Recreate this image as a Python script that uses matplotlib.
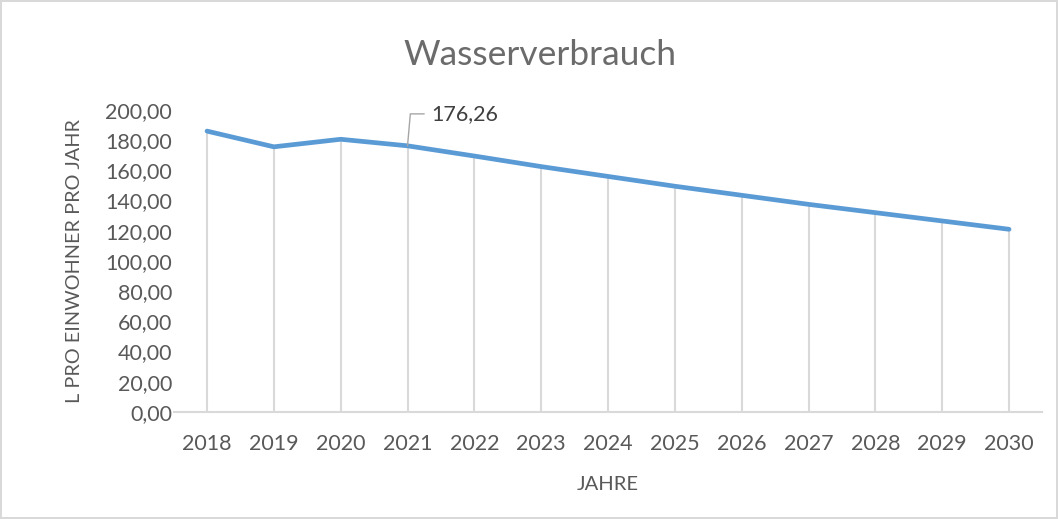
import matplotlib.pyplot as plt
import numpy as np

# Daten
jahre = ["2018", "2019", "2020", "2021", "2022", "2023", "2024",
         "2025", "2026", "2027", "2028", "2029", "2030"]
verbrauch = [186.0, 175.6, 180.6, 176.26, 169.5, 162.5, 156.0,
             149.5, 143.5, 137.5, 132.0, 126.5, 121.0]
y_ticks = [0, 20, 40, 60, 80, 100, 120, 140, 160, 180, 200]

plt.rcParams['font.family'] = ['Lato', 'DejaVu Sans']

fig = plt.figure(figsize=(10.58, 5.19), dpi=100)
fig.patch.set_edgecolor('#d9d9d9')
fig.patch.set_linewidth(1.5)
ax = fig.add_axes([0.1641, 0.2062, 0.8212, 0.5819])

x = np.arange(len(jahre))
ax.vlines(x, 0, verbrauch, color='#d9d9d9', linewidth=1.5, zorder=1)
ax.plot(x, verbrauch, color='#5b9bd5', linewidth=3.4, solid_capstyle='round', zorder=3)

# Datenbeschriftung 2021
i = jahre.index("2021")
ax.annotate(f"{verbrauch[i]:.2f}".replace('.', ','), xy=(x[i], verbrauch[i]),
            xytext=(17, 23), textcoords='offset points', fontsize=15.5,
            color='#404040', va='center', ha='left',
            arrowprops=dict(arrowstyle='-', color='#a6a6a6', lw=1,
                            shrinkA=3, shrinkB=0, relpos=(0, 0.5),
                            connectionstyle='angle,angleA=0,angleB=85,rad=0'))

ax.set_xlim(-0.5, len(jahre) - 0.5)
ax.set_ylim(0, 200)
ax.set_xticks(x)
ax.set_xticklabels(jahre)
ax.set_yticks(y_ticks)
ax.set_yticklabels([f"{v:.2f}".replace('.', ',') for v in y_ticks])
ax.tick_params(axis='both', length=0, labelsize=15.5, colors='#595959')
ax.tick_params(axis='x', pad=16)
ax.tick_params(axis='y', pad=1)

for s in ['top', 'right', 'left']:
    ax.spines[s].set_visible(False)
ax.spines['bottom'].set_color('#d9d9d9')
ax.spines['bottom'].set_linewidth(1.5)

fig.text(0.51, 0.894, "Wasserverbrauch", fontsize=25.5, color='#6b6b6b',
         ha='center', va='center')
ax.set_xlabel("JAHRE", fontsize=14.5, color='#595959', labelpad=16)
ax.set_ylabel("L PRO EINWOHNER PRO JAHR", fontsize=14.3, color='#595959', labelpad=16)

fig.savefig("out.png", dpi=100, edgecolor=fig.get_edgecolor())
